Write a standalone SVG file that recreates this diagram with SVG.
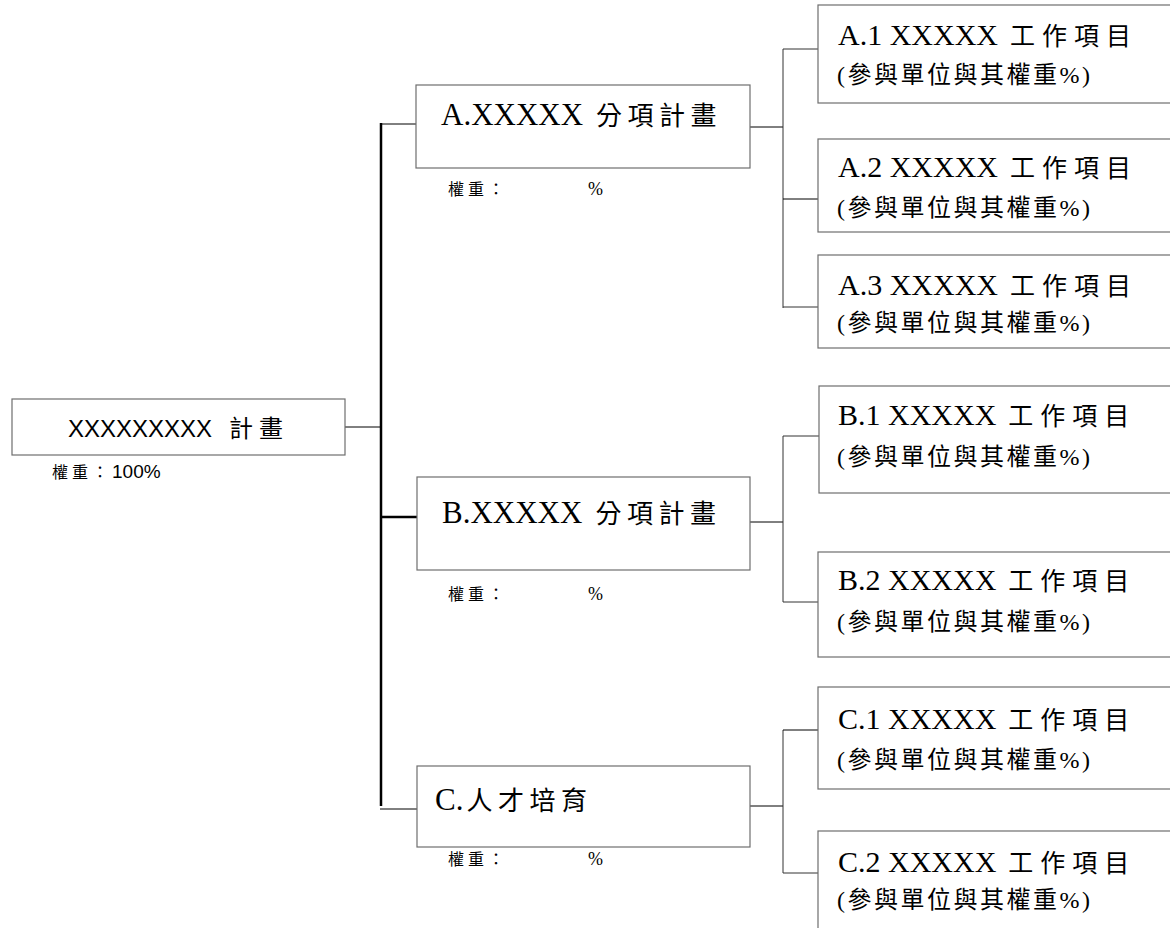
<svg xmlns="http://www.w3.org/2000/svg" width="1170" height="928" viewBox="0 0 1170 928">
<style>
.box{fill:#fff;stroke:#6e6e6e;stroke-width:1.2}
.ln{stroke:#000;stroke-width:1;fill:none}
.lg{stroke:#333;stroke-width:1;fill:none}
.tk{stroke:#000;stroke-width:2.5;fill:none}
.serif{font-family:"Liberation Serif","Noto Sans CJK TC",serif;fill:#000}
.sans{font-family:"Liberation Sans","Noto Sans CJK TC",sans-serif;fill:#000}
.cj{font-family:"Noto Sans CJK TC",sans-serif}
.main{font-size:31px}
.mcj{font-size:26px;letter-spacing:5.5px}
.t1{font-size:30px}
.t1cj{font-size:25px;letter-spacing:7px}
.t2{font-size:24px;letter-spacing:2.5px}
.w{font-size:16px;letter-spacing:4px}
.pct{font-size:18px}
</style>
<rect width="1170" height="928" fill="#fff"/>
<g id="connectors">
<line class="ln" x1="345" y1="427" x2="381" y2="427"/>
<line class="tk" x1="381" y1="123" x2="381" y2="806"/>
<line class="ln" x1="381" y1="124" x2="417" y2="124"/>
<line class="tk" x1="380" y1="517" x2="417" y2="517"/>
<line class="ln" x1="380" y1="809" x2="417" y2="809"/>
<line class="ln" x1="750" y1="127" x2="783" y2="127"/>
<line class="lg" x1="783" y1="49" x2="783" y2="308"/>
<line class="lg" x1="783" y1="49" x2="818" y2="49"/>
<line class="ln" x1="783" y1="199" x2="818" y2="199"/>
<line class="lg" x1="783" y1="307" x2="818" y2="307"/>
<line class="ln" x1="750" y1="522" x2="783" y2="522"/>
<line class="lg" x1="783" y1="436" x2="783" y2="602"/>
<line class="lg" x1="783" y1="436" x2="819" y2="436"/>
<line class="lg" x1="783" y1="602" x2="818" y2="602"/>
<line class="ln" x1="750" y1="806" x2="783" y2="806"/>
<line class="lg" x1="783" y1="730" x2="783" y2="873"/>
<line class="ln" x1="783" y1="730" x2="818" y2="730"/>
<line class="lg" x1="783" y1="873" x2="818" y2="873"/>
</g>
<g id="root">
<rect class="box" x="12" y="399" width="333" height="56"/>
<text class="sans" x="68" y="437" font-size="24">XXXXXXXXX<tspan class="cj" dx="17" letter-spacing="6">計畫</tspan></text>
<text class="sans" x="52" y="478"><tspan class="cj w">權重：</tspan><tspan font-size="19">100%</tspan></text>
</g>
<g id="nodeA">
<rect class="box" x="416" y="85" width="334" height="83"/>
<text class="serif main" x="441" y="125">A.XXXXX<tspan class="cj mcj" dx="13">分項計畫</tspan></text>
<text class="serif" x="448" y="195"><tspan class="cj w">權重：</tspan></text>
<text class="serif pct" x="588" y="195">%</text>
</g>
<g id="nodeB">
<rect class="box" x="417" y="477" width="333" height="93"/>
<text class="serif main" x="442" y="523">B.XXXXX<tspan class="cj mcj" dx="13">分項計畫</tspan></text>
<text class="serif" x="448" y="600"><tspan class="cj w">權重：</tspan></text>
<text class="serif pct" x="588" y="600">%</text>
</g>
<g id="nodeC">
<rect class="box" x="417" y="766" width="333" height="81"/>
<text class="serif main" x="435" y="810">C.<tspan class="cj mcj" dx="3">人才培育</tspan></text>
<text class="serif" x="448" y="865"><tspan class="cj w">權重：</tspan></text>
<text class="serif pct" x="588" y="865">%</text>
</g>
<g id="nodeA1">
<rect class="box" x="818" y="5" width="370" height="98"/>
<text class="serif t1" x="838" y="45">A.1 XXXXX<tspan class="cj t1cj" dx="12">工作項目</tspan></text>
<text class="serif t2" x="837" y="83">(<tspan class="cj">參與單位與其權重</tspan>%)</text>
</g>
<g id="nodeA2">
<rect class="box" x="818" y="139" width="370" height="93"/>
<text class="serif t1" x="838" y="177">A.2 XXXXX<tspan class="cj t1cj" dx="12">工作項目</tspan></text>
<text class="serif t2" x="837" y="216">(<tspan class="cj">參與單位與其權重</tspan>%)</text>
</g>
<g id="nodeA3">
<rect class="box" x="818" y="255" width="370" height="93"/>
<text class="serif t1" x="838" y="295">A.3 XXXXX<tspan class="cj t1cj" dx="12">工作項目</tspan></text>
<text class="serif t2" x="837" y="331">(<tspan class="cj">參與單位與其權重</tspan>%)</text>
</g>
<g id="nodeB1">
<rect class="box" x="819" y="386" width="370" height="107"/>
<text class="serif t1" x="838" y="425">B.1 XXXXX<tspan class="cj t1cj" dx="12">工作項目</tspan></text>
<text class="serif t2" x="837" y="465">(<tspan class="cj">參與單位與其權重</tspan>%)</text>
</g>
<g id="nodeB2">
<rect class="box" x="818" y="552" width="370" height="105"/>
<text class="serif t1" x="838" y="590">B.2 XXXXX<tspan class="cj t1cj" dx="12">工作項目</tspan></text>
<text class="serif t2" x="837" y="630">(<tspan class="cj">參與單位與其權重</tspan>%)</text>
</g>
<g id="nodeC1">
<rect class="box" x="818" y="687" width="370" height="102"/>
<text class="serif t1" x="838" y="729">C.1 XXXXX<tspan class="cj t1cj" dx="12">工作項目</tspan></text>
<text class="serif t2" x="837" y="768">(<tspan class="cj">參與單位與其權重</tspan>%)</text>
</g>
<g id="nodeC2">
<rect class="box" x="818" y="831" width="370" height="110"/>
<text class="serif t1" x="838" y="872">C.2 XXXXX<tspan class="cj t1cj" dx="12">工作項目</tspan></text>
<text class="serif t2" x="837" y="908">(<tspan class="cj">參與單位與其權重</tspan>%)</text>
</g>
</svg>
